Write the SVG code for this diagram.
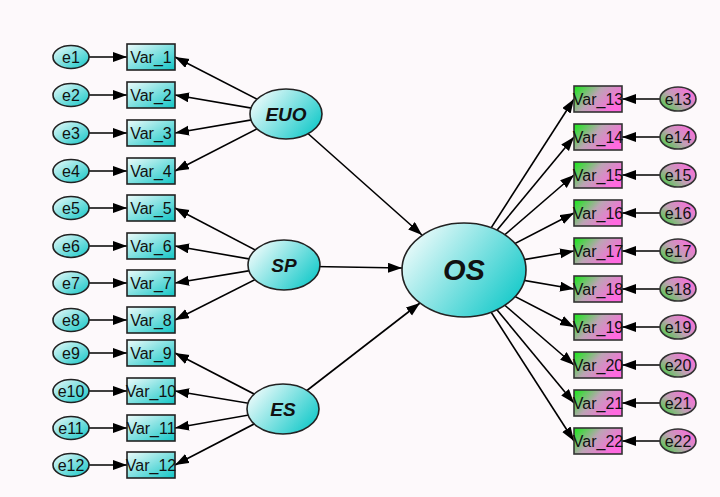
<svg xmlns="http://www.w3.org/2000/svg" width="720" height="497" viewBox="0 0 720 497">
<defs>
<linearGradient id="gc" x1="0" y1="0" x2="1" y2="1"><stop offset="0" stop-color="#eefbfb"/><stop offset="1" stop-color="#12c6c6"/></linearGradient>
<linearGradient id="gl" x1="0" y1="0.2" x2="1" y2="0.8"><stop offset="0" stop-color="#f2fcfc"/><stop offset="1" stop-color="#0fc8c8"/></linearGradient>
<linearGradient id="gp" x1="0" y1="0" x2="1" y2="0.5"><stop offset="0" stop-color="#14ec14"/><stop offset="0.5" stop-color="#bca4b4"/><stop offset="1" stop-color="#ff6ae0"/></linearGradient>
<linearGradient id="gpe" x1="0" y1="1" x2="1" y2="0.2"><stop offset="0" stop-color="#30d830"/><stop offset="0.5" stop-color="#c0a0b4"/><stop offset="1" stop-color="#ff6ae0"/></linearGradient>
<marker id="ar" markerUnits="userSpaceOnUse" markerWidth="15" markerHeight="11" refX="14" refY="5" orient="auto"><path d="M0,0 L14,5 L0,10 z" fill="#000"/></marker>
</defs>
<style>
.c line{stroke:#000;stroke-width:1.6;marker-end:url(#ar)}
.bl{fill:url(#gc);stroke:#222;stroke-width:1.6}
.el{fill:url(#gc);stroke:#222;stroke-width:1.6}
.lat{fill:url(#gl);stroke:#222;stroke-width:1.6}
.br{fill:url(#gp);stroke:#333;stroke-width:1.6}
.er{fill:url(#gpe);stroke:#333;stroke-width:1.6}
text{font-family:"Liberation Sans",Arial,sans-serif;fill:#111;text-anchor:middle}
.t{font-size:16px}
.lt{font-size:19px;font-weight:bold;font-style:italic}
.os{font-size:29px;font-weight:bold;font-style:italic}
</style>
<rect width="720" height="497" fill="#fdf9fb"/>
<g class="c" id="connectors">
<line x1="89" y1="57" x2="127" y2="57"/><line x1="89" y1="95" x2="127" y2="95"/><line x1="89" y1="133" x2="127" y2="133"/><line x1="89" y1="171" x2="127" y2="171"/>
<line x1="89" y1="208" x2="127" y2="208"/><line x1="89" y1="246" x2="127" y2="246"/><line x1="89" y1="283" x2="127" y2="283"/><line x1="89" y1="320" x2="127" y2="320"/>
<line x1="89" y1="353" x2="127" y2="353"/><line x1="89" y1="391" x2="127" y2="391"/><line x1="89" y1="428" x2="127" y2="428"/><line x1="89" y1="465" x2="127" y2="465"/>
<line x1="286" y1="114" x2="175" y2="57"/><line x1="286" y1="114" x2="175" y2="95"/><line x1="286" y1="114" x2="175" y2="133"/><line x1="286" y1="114" x2="175" y2="171"/>
<line x1="284" y1="265" x2="175" y2="208"/><line x1="284" y1="265" x2="175" y2="246"/><line x1="284" y1="265" x2="175" y2="283"/><line x1="284" y1="265" x2="175" y2="320"/>
<line x1="283" y1="409" x2="175" y2="353"/><line x1="283" y1="409" x2="175" y2="391"/><line x1="283" y1="409" x2="175" y2="428"/><line x1="283" y1="409" x2="175" y2="465"/>
<line x1="286" y1="114" x2="422" y2="235"/><line x1="284" y1="266" x2="402" y2="268"/><line x1="283" y1="409" x2="420" y2="303"/>
<line x1="464" y1="270" x2="574" y2="99"/><line x1="464" y1="270" x2="574" y2="137"/><line x1="464" y1="270" x2="574" y2="175"/><line x1="464" y1="270" x2="574" y2="213"/><line x1="464" y1="270" x2="574" y2="251"/>
<line x1="464" y1="270" x2="574" y2="289"/><line x1="464" y1="270" x2="574" y2="327"/><line x1="464" y1="270" x2="574" y2="365"/><line x1="464" y1="270" x2="574" y2="403"/><line x1="464" y1="270" x2="574" y2="441"/>
<line x1="660" y1="99" x2="622" y2="99"/><line x1="660" y1="137" x2="622" y2="137"/><line x1="660" y1="175" x2="622" y2="175"/><line x1="660" y1="213" x2="622" y2="213"/><line x1="660" y1="251" x2="622" y2="251"/>
<line x1="660" y1="289" x2="622" y2="289"/><line x1="660" y1="327" x2="622" y2="327"/><line x1="660" y1="365" x2="622" y2="365"/><line x1="660" y1="403" x2="622" y2="403"/><line x1="660" y1="441" x2="622" y2="441"/>
</g>
<g id="e1"><ellipse class="el" cx="71" cy="57" rx="18" ry="11.5"/><text class="t" x="71" y="63">e1</text></g>
<g id="e2"><ellipse class="el" cx="71" cy="95" rx="18" ry="11.5"/><text class="t" x="71" y="101">e2</text></g>
<g id="e3"><ellipse class="el" cx="71" cy="133" rx="18" ry="11.5"/><text class="t" x="71" y="139">e3</text></g>
<g id="e4"><ellipse class="el" cx="71" cy="171" rx="18" ry="11.5"/><text class="t" x="71" y="177">e4</text></g>
<g id="e5"><ellipse class="el" cx="71" cy="208" rx="18" ry="11.5"/><text class="t" x="71" y="214">e5</text></g>
<g id="e6"><ellipse class="el" cx="71" cy="246" rx="18" ry="11.5"/><text class="t" x="71" y="252">e6</text></g>
<g id="e7"><ellipse class="el" cx="71" cy="283" rx="18" ry="11.5"/><text class="t" x="71" y="289">e7</text></g>
<g id="e8"><ellipse class="el" cx="71" cy="320" rx="18" ry="11.5"/><text class="t" x="71" y="326">e8</text></g>
<g id="e9"><ellipse class="el" cx="71" cy="353" rx="18" ry="11.5"/><text class="t" x="71" y="359">e9</text></g>
<g id="e10"><ellipse class="el" cx="71" cy="391" rx="18" ry="11.5"/><text class="t" x="71" y="397">e10</text></g>
<g id="e11"><ellipse class="el" cx="71" cy="428" rx="18" ry="11.5"/><text class="t" x="71" y="434">e11</text></g>
<g id="e12"><ellipse class="el" cx="71" cy="465" rx="18" ry="11.5"/><text class="t" x="71" y="471">e12</text></g>
<g id="var1"><rect class="bl" x="127" y="44" width="48" height="26"/><text class="t" x="151" y="63">Var_1</text></g>
<g id="var2"><rect class="bl" x="127" y="82" width="48" height="26"/><text class="t" x="151" y="101">Var_2</text></g>
<g id="var3"><rect class="bl" x="127" y="120" width="48" height="26"/><text class="t" x="151" y="139">Var_3</text></g>
<g id="var4"><rect class="bl" x="127" y="158" width="48" height="26"/><text class="t" x="151" y="177">Var_4</text></g>
<g id="var5"><rect class="bl" x="127" y="195" width="48" height="26"/><text class="t" x="151" y="214">Var_5</text></g>
<g id="var6"><rect class="bl" x="127" y="233" width="48" height="26"/><text class="t" x="151" y="252">Var_6</text></g>
<g id="var7"><rect class="bl" x="127" y="270" width="48" height="26"/><text class="t" x="151" y="289">Var_7</text></g>
<g id="var8"><rect class="bl" x="127" y="307" width="48" height="26"/><text class="t" x="151" y="326">Var_8</text></g>
<g id="var9"><rect class="bl" x="127" y="340" width="48" height="26"/><text class="t" x="151" y="359">Var_9</text></g>
<g id="var10"><rect class="bl" x="127" y="378" width="48" height="26"/><text class="t" x="151" y="397">Var_10</text></g>
<g id="var11"><rect class="bl" x="127" y="415" width="48" height="26"/><text class="t" x="151" y="434">Var_11</text></g>
<g id="var12"><rect class="bl" x="127" y="452" width="48" height="26"/><text class="t" x="151" y="471">Var_12</text></g>
<g id="EUO"><ellipse class="lat" cx="286" cy="114" rx="36" ry="25"/><text class="lt" x="286" y="121">EUO</text></g>
<g id="SP"><ellipse class="lat" cx="284" cy="265" rx="36" ry="25"/><text class="lt" x="284" y="272">SP</text></g>
<g id="ES"><ellipse class="lat" cx="283" cy="409" rx="36" ry="25"/><text class="lt" x="283" y="416">ES</text></g>
<g id="OS"><ellipse class="lat" cx="464" cy="270" rx="62" ry="47"/><text class="os" x="464" y="280">OS</text></g>
<g id="var13"><rect class="br" x="574" y="86" width="48" height="26"/><text class="t" x="598" y="105">Var_13</text></g>
<g id="var14"><rect class="br" x="574" y="124" width="48" height="26"/><text class="t" x="598" y="143">Var_14</text></g>
<g id="var15"><rect class="br" x="574" y="162" width="48" height="26"/><text class="t" x="598" y="181">Var_15</text></g>
<g id="var16"><rect class="br" x="574" y="200" width="48" height="26"/><text class="t" x="598" y="219">Var_16</text></g>
<g id="var17"><rect class="br" x="574" y="238" width="48" height="26"/><text class="t" x="598" y="257">Var_17</text></g>
<g id="var18"><rect class="br" x="574" y="276" width="48" height="26"/><text class="t" x="598" y="295">Var_18</text></g>
<g id="var19"><rect class="br" x="574" y="314" width="48" height="26"/><text class="t" x="598" y="333">Var_19</text></g>
<g id="var20"><rect class="br" x="574" y="352" width="48" height="26"/><text class="t" x="598" y="371">Var_20</text></g>
<g id="var21"><rect class="br" x="574" y="390" width="48" height="26"/><text class="t" x="598" y="409">Var_21</text></g>
<g id="var22"><rect class="br" x="574" y="428" width="48" height="26"/><text class="t" x="598" y="447">Var_22</text></g>
<g id="e13"><ellipse class="er" cx="678" cy="99" rx="18" ry="12"/><text class="t" x="678" y="105">e13</text></g>
<g id="e14"><ellipse class="er" cx="678" cy="137" rx="18" ry="12"/><text class="t" x="678" y="143">e14</text></g>
<g id="e15"><ellipse class="er" cx="678" cy="175" rx="18" ry="12"/><text class="t" x="678" y="181">e15</text></g>
<g id="e16"><ellipse class="er" cx="678" cy="213" rx="18" ry="12"/><text class="t" x="678" y="219">e16</text></g>
<g id="e17"><ellipse class="er" cx="678" cy="251" rx="18" ry="12"/><text class="t" x="678" y="257">e17</text></g>
<g id="e18"><ellipse class="er" cx="678" cy="289" rx="18" ry="12"/><text class="t" x="678" y="295">e18</text></g>
<g id="e19"><ellipse class="er" cx="678" cy="327" rx="18" ry="12"/><text class="t" x="678" y="333">e19</text></g>
<g id="e20"><ellipse class="er" cx="678" cy="365" rx="18" ry="12"/><text class="t" x="678" y="371">e20</text></g>
<g id="e21"><ellipse class="er" cx="678" cy="403" rx="18" ry="12"/><text class="t" x="678" y="409">e21</text></g>
<g id="e22"><ellipse class="er" cx="678" cy="441" rx="18" ry="12"/><text class="t" x="678" y="447">e22</text></g>
</svg>
